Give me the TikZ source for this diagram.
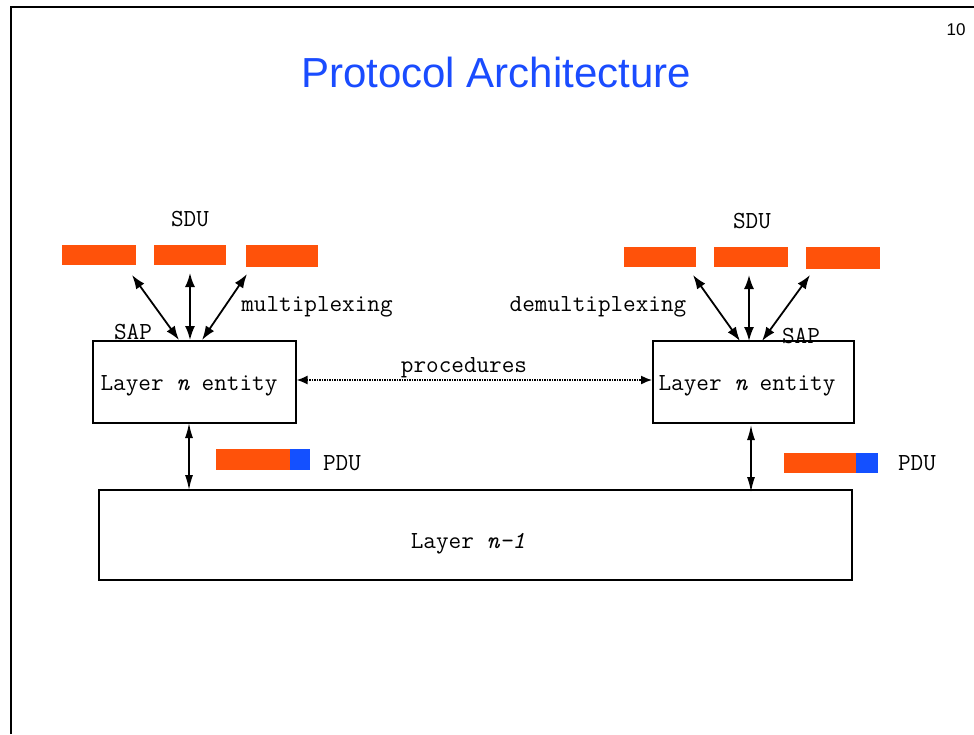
\documentclass[tikz,border=0pt]{standalone}
\usepackage{fontspec}
\setmainfont{Liberation Sans}
\usetikzlibrary{arrows.meta}
\definecolor{pduor}{HTML}{FF520A}
\definecolor{pdubl}{HTML}{1450FF}
\definecolor{ttlbl}{HTML}{1A4CFF}
\begin{document}
\begin{tikzpicture}[x=1pt,y=-1pt,
  bar/.style={fill=pduor, draw=none, inner sep=0pt, anchor=north west},
  hdr/.style={fill=pdubl, draw=none, inner sep=0pt, anchor=north west},
  entbox/.style={draw, line width=1.6pt, inner sep=0pt, anchor=north west},
  lbl/.style={font=\ttfamily\fontsize{24.5}{28}\selectfont, inner sep=0pt, yshift=-2.5pt},
  sduarrow/.style={line width=1.8pt, {Latex[length=14pt,width=10pt]}-{Latex[length=14pt,width=10pt]}},
  pduarrow/.style={line width=1.4pt, {Latex[length=15pt,width=8pt]}-{Latex[length=15pt,width=8pt]}},
  procarrow/.style={line width=1.5pt, densely dotted, {Latex[length=11pt,width=9pt]}-{Latex[length=11pt,width=9pt]}}
]
\useasboundingbox (0,0) rectangle (974,734);
\fill[white] (0,0) rectangle (974,734);
% frame
\draw[line width=2.6pt] (11,734) -- (11,7) -- (974,7);
% title and page number
\node[font=\fontsize{42}{48}\selectfont, text=ttlbl, inner sep=0pt] (title) at (496,72) {Protocol Architecture};
\node[font=\fontsize{17}{20}\selectfont, inner sep=0pt] (page) at (956,30) {10};

% left SDU bars
\node[bar, minimum width=74pt, minimum height=20pt] (lb1) at (62,245) {};
\node[bar, minimum width=72pt, minimum height=20pt] (lb2) at (154,245) {};
\node[bar, minimum width=72pt, minimum height=22pt] (lb3) at (246,245) {};
\node[lbl] (lsdu) at (190,217) {SDU};
% right SDU bars
\node[bar, minimum width=72pt, minimum height=20pt] (rb1) at (624,247) {};
\node[bar, minimum width=74pt, minimum height=20pt] (rb2) at (714,247) {};
\node[bar, minimum width=74pt, minimum height=22pt] (rb3) at (806,247) {};
\node[lbl] (rsdu) at (752,219) {SDU};

% entity boxes
\node[entbox, minimum width=203pt, minimum height=82pt] (le) at (92,340) {};
\node[entbox, minimum width=201pt, minimum height=82pt] (re) at (652,340) {};
\node[lbl] (letext) at (189,383) {Layer {\itshape n} entity};
\node[lbl] (retext) at (747,383) {Layer {\itshape n} entity};

% layer n-1
\node[entbox, minimum width=753pt, minimum height=90pt] (low) at (98,489) {};
\node[lbl] (lowtext) at (468,541) {Layer {\itshape n-1}};

% labels
\node[lbl] (lsap) at (133,329) {SAP};
\node[lbl] (rsap) at (801,333) {SAP};
\node[lbl] (mux) at (317,304) {multiplexing};
\node[lbl] (demux) at (598,304) {demultiplexing};
\node[lbl] (proc) at (464,365) {procedures};

% SDU arrow end points
\coordinate (la1t) at (132,275); \coordinate (la1b) at (179,340);
\coordinate (la2t) at (190,273); \coordinate (la2b) at (190,340);
\coordinate (la3t) at (247,274); \coordinate (la3b) at (202,340);
\coordinate (ra1t) at (693,275); \coordinate (ra1b) at (740,341);
\coordinate (ra2t) at (749,275); \coordinate (ra2b) at (749,341);
\coordinate (ra3t) at (810,275); \coordinate (ra3b) at (762,341);
\draw[sduarrow] (la1t) -- (la1b);
\draw[sduarrow] (la2t) -- (la2b);
\draw[sduarrow] (la3t) -- (la3b);
\draw[sduarrow] (ra1t) -- (ra1b);
\draw[sduarrow] (ra2t) -- (ra2b);
\draw[sduarrow] (ra3t) -- (ra3b);

% procedures
\draw[procarrow] (le.east |- 0,380) -- (re.west |- 0,380);

% PDUs
\node[bar, minimum width=74pt, minimum height=21pt] (lpdu) at (216,449) {};
\node[hdr, minimum width=20pt, minimum height=21pt] (lhdr) at (290,449) {};
\node[lbl] (lpdut) at (342,461) {PDU};
\node[bar, minimum width=72pt, minimum height=20pt] (rpdu) at (784,453) {};
\node[hdr, minimum width=22pt, minimum height=20pt] (rhdr) at (856,453) {};
\node[lbl] (rpdut) at (917,461) {PDU};

% vertical arrows
\coordinate (lv) at (189,423); \coordinate (lvb) at (189,490);
\coordinate (rv) at (751,425); \coordinate (rvb) at (751,492);
\draw[pduarrow] (lv) -- (lvb);
\draw[pduarrow] (rv) -- (rvb);
\end{tikzpicture}
\end{document}
